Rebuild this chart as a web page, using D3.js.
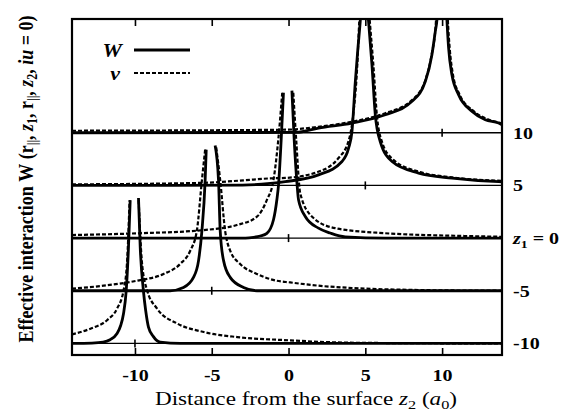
<!DOCTYPE html>
<html>
<head>
<meta charset="utf-8">
<script src="https://cdn.jsdelivr.net/npm/d3@7/dist/d3.min.js"></script>
<style>
body { margin: 0; background: #fff; }
svg text { font-family: "Liberation Serif", "Times New Roman", serif; fill: #000; }
</style>
</head>
<body>
<svg id="drawing_region"></svg>
<script>
// baselines (z1) and their labels on the right
const offsets = [10, 5, 0, -5, -10];
const xTicks = [-10, -5, 0, 5, 10];

// [z2, value above baseline]; null = the singular point z2 = z1
const W_m10 = [[-14.1,0],[-12.8,0.03],[-12.07,0.12],[-11.62,0.35],[-11.18,0.92],[-10.93,1.7],[-10.75,2.8],[-10.57,5.0],[-10.42,9.2],[-10.31,13.6],[-10,null],[-9.77,13.8],[-9.66,9.2],[-9.45,5.0],[-9.3,3.1],[-9.12,1.55],[-8.81,0.67],[-8.35,0.12],[-7.05,0],[13.9,0]];
const v_m10 = [[-14.1,0.86],[-12.9,1.4],[-11.82,2.2],[-11.17,3.3],[-10.74,5.05],[-10.52,7.6],[-10.35,13.6],[-10,null],[-9.76,13.6],[-9.54,7.6],[-9.21,5.05],[-8.56,3.3],[-7.26,1.9],[-5.52,1.08],[-3.34,0.6],[0.13,0.29],[2.6,0.12],[6,0.04],[13.9,0]];

const W_m5 = [[-14.1,0],[-7.7,0],[-6.84,0.31],[-6.19,1.27],[-5.86,2.86],[-5.64,5.7],[-5.43,10.5],[-5.36,13.4],[-5,null],[-4.78,13.8],[-4.56,10.5],[-4.45,5.7],[-4.23,2.86],[-3.8,1.27],[-2.93,0.31],[-2.06,0],[13.9,0]];
const v_m5 = [[-14.1,0.2],[-12.05,0.48],[-9.88,0.95],[-8.14,1.59],[-7.06,2.54],[-6.4,3.8],[-5.97,5.7],[-5.64,10.5],[-5.43,13.4],[-5,null],[-4.71,13.6],[-4.45,10.5],[-4.13,5.7],[-3.8,3.8],[-3.15,2.54],[-2.06,1.59],[-0.76,0.95],[0.11,0.79],[1.95,0.48],[4.13,0.26],[8.47,0.07],[13.9,0]];

const W_0 = [[-14.1,0],[-2.8,0],[-2.28,0.07],[-1.84,0.2],[-1.41,0.45],[-0.98,1.74],[-0.76,3.64],[-0.65,5.07],[-0.48,9.3],[-0.33,13.8],[0,null],[0.22,14.0],[0.37,9.3],[0.55,5.2],[0.65,3.64],[1.09,2.05],[1.95,0.94],[2.72,0.48],[3.69,0.12],[6.3,0],[13.9,0]];
const v_0 = [[-14.1,0.29],[-9.88,0.45],[-5.54,0.76],[-3.36,1.24],[-2.06,2.03],[-1.41,3.62],[-0.98,5.52],[-0.67,9.3],[-0.41,13.8],[0,null],[0.31,13.8],[0.5,9.3],[0.76,4.27],[1.52,2.05],[3.04,0.94],[6.3,0.46],[11.73,0.19],[13.9,0.12]];

const W_5 = [[-14.1,0],[-3,0.03],[-1.19,0.19],[-0.21,0.36],[1.95,1.0],[3.48,2.27],[3.91,3.54],[4.13,5.12],[4.35,9.87],[4.52,13.05],[4.67,15.6],[4.78,18],[5,null],[5.07,18],[5.21,15.6],[5.43,11.5],[5.65,6.7],[5.97,4.17],[6.74,2.27],[8.47,1.17],[10.65,0.69],[13.68,0.36],[13.9,0.35]];
const v_5 = [[-14.1,0.1],[-5.75,0.24],[-2.95,0.48],[-1.19,0.67],[-0.21,0.71],[1.93,1.29],[3.24,2.58],[3.89,4.13],[4.21,6.7],[4.48,11.5],[4.61,15.7],[4.72,18],[5,null],[5.16,18],[5.29,15.6],[5.52,11.5],[5.75,6.7],[6.07,4.2],[6.85,2.4],[8.58,1.26],[10.66,0.76],[13.9,0.43]];

const W_10 = [[-14.1,0],[0.5,0.03],[1.95,0.45],[4.13,0.92],[6.3,1.71],[8.04,2.98],[8.91,4.88],[9.34,7.43],[9.56,9.65],[9.67,10.8],[9.76,13],[10,null],[10.24,13],[10.31,10.8],[10.42,8.1],[10.64,5.5],[11.07,3.62],[11.95,2.03],[12.81,1.24],[13.68,0.92],[13.9,0.76]];
const v_10 = [[-14.1,0.19],[-0.21,0.29],[1.95,0.57],[4.13,1.05],[6.3,1.86],[8.04,3.1],[8.91,5.0],[9.33,7.5],[9.56,9.8],[9.7,13],[10,null],[10.31,13],[10.37,10.8],[10.49,8.1],[10.71,5.5],[11.14,3.62],[12.01,2.1],[12.88,1.33],[13.9,0.9]];

const curves = [
    {z1: -10, W: W_m10, v: v_m10},
    {z1: -5, W: W_m5, v: v_m5},
    {z1: 0, W: W_0, v: v_0},
    {z1: 5, W: W_5, v: v_5},
    {z1: 10, W: W_10, v: v_10}
];

const config = {
    width: 578,
    height: 417,
    margin: {top: 19, right: 76, bottom: 62, left: 72}
};

const svg = d3.select('#drawing_region')
    .attr('width', config.width)
    .attr('height', config.height);

const inner_width = config.width - config.margin.left - config.margin.right;
const inner_height = config.height - config.margin.top - config.margin.bottom;

const chart = svg.append('g')
    .attr('transform', `translate(${config.margin.left}, ${config.margin.top})`);

const xscale = d3.scaleLinear().domain([-14.1, 13.9]).range([0, inner_width]);
const yscale = d3.scaleLinear().domain([-11.1, 20.8]).range([inner_height, 0]);

chart.append('clipPath').attr('id', 'clip')
    .append('rect').attr('width', inner_width).attr('height', inner_height);

// horizontal baselines with a small mark at z2 = z1
chart.selectAll('.baseline').data(offsets).enter()
    .append('line')
    .attr('x1', 0).attr('x2', inner_width)
    .attr('y1', d => yscale(d)).attr('y2', d => yscale(d))
    .attr('stroke', '#000').attr('stroke-width', 1.3);
chart.selectAll('.bmark').data(offsets).enter()
    .append('line')
    .attr('x1', d => xscale(d)).attr('x2', d => xscale(d))
    .attr('y1', d => yscale(d) - 4).attr('y2', d => yscale(d) + 4)
    .attr('stroke', '#000').attr('stroke-width', 1.6);

const plot = chart.append('g').attr('clip-path', 'url(#clip)');

curves.forEach(c => {
    const line = d3.line()
        .defined(d => d[1] !== null)
        .x(d => xscale(d[0]))
        .y(d => yscale(c.z1 + d[1]))
        .curve(d3.curveMonotoneX);
    plot.append('path')
        .attr('d', line(c.v))
        .attr('fill', 'none').attr('stroke', '#000')
        .attr('stroke-width', 2.2).attr('stroke-dasharray', '4,2');
    plot.append('path')
        .attr('d', line(c.W))
        .attr('fill', 'none').attr('stroke', '#000')
        .attr('stroke-width', 2.8);
});

// axes: ticks inside the frame, top and bottom
const xaxis = d3.axisBottom(xscale).tickValues(xTicks).tickSize(-7).tickPadding(15).tickFormat(d3.format('d'));
const xaxis_group = chart.append('g')
    .attr('transform', `translate(0, ${inner_height})`)
    .call(xaxis);
xaxis_group.select('.domain').remove();
xaxis_group.selectAll('line').attr('stroke-width', 1.6);
xaxis_group.selectAll('text')
    .text(d => d < 0 ? '-' + Math.abs(d) : d)
    .attr('font-family', '"Liberation Serif", serif')
    .attr('font-size', 16).attr('font-weight', 'bold')
    .attr('transform', 'scale(1.25,1)');

const top_group = chart.append('g')
    .call(d3.axisTop(xscale).tickValues(xTicks).tickSize(-7).tickFormat(''));
top_group.select('.domain').remove();
top_group.selectAll('line').attr('stroke-width', 1.6);

chart.append('rect')
    .attr('width', inner_width).attr('height', inner_height)
    .attr('fill', 'none').attr('stroke', '#000').attr('stroke-width', 2.2);

// right hand labels
offsets.forEach(z => {
    const t = chart.append('g')
        .attr('transform', `translate(${inner_width + 11}, ${yscale(z) + 6}) scale(1.25,1)`)
        .append('text').attr('font-size', 16).attr('font-weight', 'bold');
    if (z === 0) {
        t.append('tspan').attr('font-style', 'italic').text('z');
        t.append('tspan').attr('font-size', 11).attr('dy', 4).text('1');
        t.append('tspan').attr('dy', -4).text(' = 0');
    } else {
        t.text(z < 0 ? '-' + Math.abs(z) : z);
    }
});

// legend
const leg = chart.append('g');
leg.append('g').attr('transform', 'translate(50, 38) scale(1.15,1)')
    .append('text').attr('text-anchor', 'end')
    .attr('font-size', 19).attr('font-weight', 'bold').attr('font-style', 'italic').text('W');
leg.append('line').attr('x1', 62).attr('x2', 118).attr('y1', 31).attr('y2', 31)
    .attr('stroke', '#000').attr('stroke-width', 3);
leg.append('g').attr('transform', 'translate(48, 61) scale(1.15,1)')
    .append('text').attr('text-anchor', 'end')
    .attr('font-size', 19).attr('font-weight', 'bold').attr('font-style', 'italic').text('v');
leg.append('line').attr('x1', 62).attr('x2', 118).attr('y1', 54).attr('y2', 54)
    .attr('stroke', '#000').attr('stroke-width', 2).attr('stroke-dasharray', '4,2');

// x label
const xl = svg.append('g')
    .attr('transform', 'translate(306, 405) scale(1.25,1)')
    .append('text').attr('text-anchor', 'middle').attr('font-size', 18.5);
xl.append('tspan').text('Distance from the surface ');
xl.append('tspan').attr('font-style', 'italic').text('z');
xl.append('tspan').attr('font-size', 13).attr('dy', 4).text('2');
xl.append('tspan').attr('dy', -4).text(' (');
xl.append('tspan').attr('font-style', 'italic').text('a');
xl.append('tspan').attr('font-size', 13).attr('dy', 4).text('0');
xl.append('tspan').attr('dy', -4).text(')');

// y label
const yl = svg.append('g')
    .attr('transform', 'translate(33, 179) rotate(-90) scale(1,1.2)')
    .append('text').attr('text-anchor', 'middle').attr('font-size', 18).attr('font-weight', 'bold');
yl.append('tspan').text('Effective interaction ');
yl.append('tspan').text('W');
yl.append('tspan').text(' (');
yl.append('tspan').text('r');
yl.append('tspan').attr('font-size', 12).attr('dy', 3).text('||');
yl.append('tspan').attr('dy', -3).text(', ');
yl.append('tspan').attr('font-style', 'italic').text('z');
yl.append('tspan').attr('font-size', 12).attr('dy', 3).text('1');
yl.append('tspan').attr('dy', -3).text(', ');
yl.append('tspan').text('r');
yl.append('tspan').attr('font-size', 12).attr('dy', 3).text('||');
yl.append('tspan').attr('dy', -3).text(', ');
yl.append('tspan').attr('font-style', 'italic').text('z');
yl.append('tspan').attr('font-size', 12).attr('dy', 3).text('2');
yl.append('tspan').attr('dy', -3).text(', ');
yl.append('tspan').attr('font-style', 'italic').text('iu');
yl.append('tspan').text(' = 0)');
</script>
</body>
</html>
